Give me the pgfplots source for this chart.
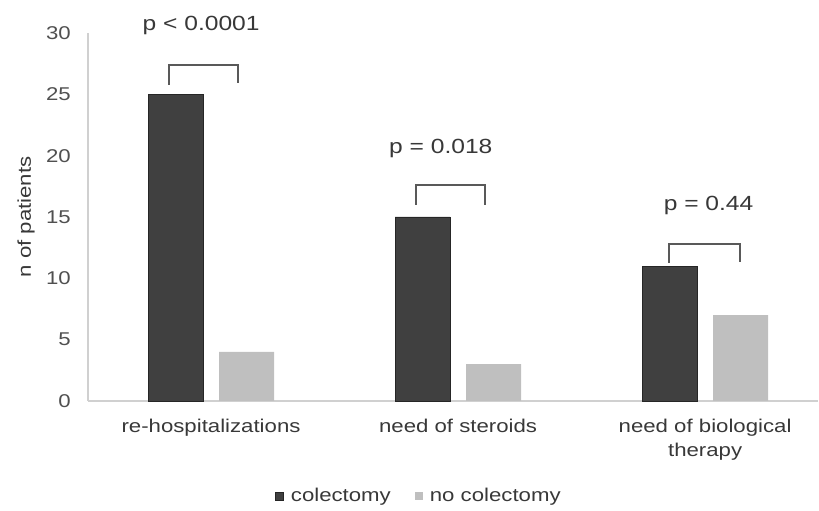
\documentclass[border=0pt]{standalone}
\usepackage{fontspec}
\setmainfont{Liberation Sans}[FakeStretch=1.2]
\usepackage{pgfplots}
\pgfplotsset{compat=1.18}

\definecolor{darkbar}{HTML}{404040}
\definecolor{lightbar}{HTML}{BFBFBF}
\definecolor{axisgray}{HTML}{D0D0D0}
\definecolor{labelgray}{HTML}{383838}
\definecolor{tickgray}{HTML}{505050}
\definecolor{bracketgray}{HTML}{595959}

\newcommand\pfont{\fontsize{20.5}{24}\selectfont}

\begin{document}
\fontsize{18.5}{24}\selectfont
\begin{tikzpicture}
\begin{axis}[
  at={(88pt,110pt)}, anchor=south west,
  scale only axis, width=730pt, height=368pt,
  xmin=-0.498, xmax=2.457,
  ymin=0, ymax=30,
  ybar=16pt, bar width=55pt,
  clip=false,
  axis x line*=bottom, axis y line*=left,
  axis line style={axisgray, line width=1.2pt, -},
  major tick length=0pt,
  xtick={0,1,2},
  xticklabels={re-hospitalizations, need of steroids, {need of biological\\therapy}},
  xticklabel style={labelgray, align=center, inner sep=0pt, anchor=north, yshift=-18pt},
  ytick={0,5,...,30},
  yticklabel style={tickgray, inner sep=0pt, anchor=east, xshift=-17pt},
  /pgf/number format/assume math mode=true,
  ylabel={n of patients},
  ylabel style={labelgray, at={(axis description cs:-0.0849,0.5)}, anchor=center},
  legend columns=2,
  legend style={draw=none, fill=none, at={(axis description cs:0.4534,-0.258)}, anchor=center,
    text=labelgray,
    /tikz/every odd column/.append style={column sep=5pt},
    /tikz/every even column/.append style={column sep=22pt}},
  legend image code/.code={\fill[#1] (0pt,-4pt) rectangle (8pt,4pt);},
]
\addplot[fill=darkbar, draw=black!85, line width=0.6pt]
  coordinates {(0,25) (1,15) (2,11)};
\addlegendentry{colectomy}
\addplot[fill=lightbar, draw=none]
  coordinates {(0,4) (1,3) (2,7)};
\addlegendentry{no colectomy}

% significance brackets and p-values
\draw[bracketgray, line width=1.6pt] (axis cs:-0.170,25.8) |- (axis cs:0.109,27.4) -- (axis cs:0.109,25.9);
\draw[bracketgray, line width=1.6pt] (axis cs:0.830,16.0) |- (axis cs:1.109,17.6) -- (axis cs:1.109,16.0);
\draw[bracketgray, line width=1.6pt] (axis cs:1.854,11.25) |- (axis cs:2.142,12.8) -- (axis cs:2.142,11.3);
\node[labelgray, font=\pfont] at (axis cs:-0.04,30.6) {p < 0.0001};
\node[labelgray, font=\pfont] at (axis cs:0.93,20.6) {p = 0.018};
\node[labelgray, font=\pfont] at (axis cs:2.014,15.9) {p = 0.44};
\end{axis}
\pgfresetboundingbox
\path[use as bounding box] (0,0) rectangle (819pt,511pt);
\end{tikzpicture}
\end{document}
